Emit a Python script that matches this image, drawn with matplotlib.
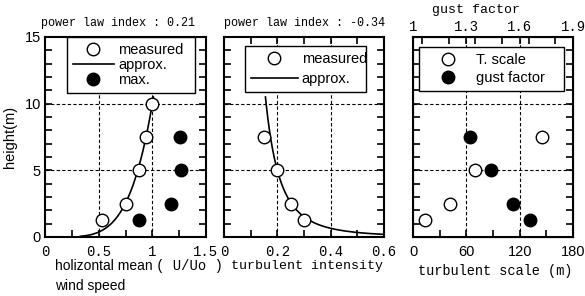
import numpy as np
import matplotlib.pyplot as plt
from matplotlib.ticker import MultipleLocator

# measured heights (m)
height = [1.25, 2.5, 5, 7.5, 10]

# panel 1: mean wind speed U/Uo
u_measured = [0.53, 0.75, 0.875, 0.945, 1.0]
u_max_height = [1.25, 2.5, 5, 7.5]
u_max = [0.88, 1.17, 1.27, 1.26]
u_index = 0.21

# panel 2: turbulent intensity
ti_height = [1.25, 2.5, 5, 7.5]
ti_measured = [0.30, 0.25, 0.20, 0.15]
ti_index = -0.34

# panel 3: turbulent scale and gust factor
ts_height = [1.25, 2.5, 5, 7.5]
t_scale = [13, 42, 70, 145]
gust_factor = [1.66, 1.56, 1.44, 1.32]

MONO = "Liberation Mono"
SANS = "Liberation Sans"

fig = plt.figure(figsize=(5.85, 2.96), dpi=100)
W, H = 585.0, 296.0


def make_ax(x0, x1):
    return fig.add_axes([x0 / W, 1 - 237 / H, (x1 - x0) / W, 200 / H])


def style(ax, xlim, xmajor, xminor, grid_x):
    ax.set_xlim(*xlim)
    ax.set_ylim(0, 15)
    ax.xaxis.set_major_locator(MultipleLocator(xmajor))
    ax.xaxis.set_minor_locator(MultipleLocator(xminor))
    ax.yaxis.set_major_locator(MultipleLocator(5))
    ax.yaxis.set_minor_locator(MultipleLocator(1))
    ax.tick_params(which="both", direction="in", top=True, right=True,
                   length=5, width=1.2, pad=6)
    for s in ax.spines.values():
        s.set_linewidth(1.5)
    for gx in grid_x:
        ax.axvline(gx, color="black", ls=(0, (3, 2)), lw=0.8, zorder=1)
    for gy in [5, 10]:
        ax.axhline(gy, color="black", ls=(0, (3, 2)), lw=0.8, zorder=1)


def legend(ax, x0, y0, x1, y1, spacing, hlen, handles=None, labels=None):
    kw = dict(loc="upper left",
              bbox_to_anchor=(x0 / W, 1 - y1 / H, (x1 - x0) / W, (y1 - y0) / H),
              bbox_transform=fig.transFigure, mode="expand",
              frameon=True, fancybox=False, framealpha=1,
              prop={"family": SANS, "size": 10.5}, handlelength=hlen,
              handletextpad=0.3, labelspacing=spacing, borderpad=0.4,
              borderaxespad=0)
    if handles is not None:
        leg = ax.legend(handles, labels, **kw)
    else:
        leg = ax.legend(**kw)
    leg.get_frame().set_edgecolor("black")
    leg.get_frame().set_linewidth(1.0)
    leg.set_zorder(5)
    return leg


mk = dict(marker="o", ms=9, ls="none", mec="black", mew=1.0, zorder=4)

# ---- panel 1
ax1 = make_ax(45, 206)
style(ax1, (0, 1.5), 0.5, 0.25, [0.5, 1.0])
z = np.linspace(0.05, 10.5, 200)
ax1.plot(u_measured, height, mfc="white", label="measured", **mk)
ax1.plot((z / 10) ** u_index, z, color="black", lw=1.2, label="approx.", zorder=3)
ax1.plot(u_max, u_max_height, mfc="black", label="max.", **mk)
ax1.set_xticks([0, 0.5, 1, 1.5])
ax1.set_xticklabels(["0", "0.5", "1", "1.5"], family=MONO, fontsize=10)
ax1.set_yticks([0, 5, 10, 15])
ax1.set_yticklabels(["0", "5", "10", "15"], family=SANS, fontsize=10.5)
ax1.tick_params(axis="y", pad=3)
ax1.set_title("power law index : 0.21", family=MONO, fontsize=8.5, pad=8, x=0.455)
legend(ax1, 67, 37, 195, 93, 0.08, 2.8)

# ---- panel 2
ax2 = make_ax(224, 384)
style(ax2, (0, 0.6), 0.2, 0.1, [0.2, 0.4])
z2 = np.linspace(0.2, 10.5, 200)
ax2.plot(ti_measured, ti_height, mfc="white", label="measured", **mk)
ax2.plot(0.2 * (z2 / 5) ** ti_index, z2, color="black", lw=1.2, label="approx.", zorder=3)
ax2.set_xticks([0, 0.2, 0.4, 0.6])
ax2.set_xticklabels(["0", "0.2", "0.4", "0.6"], family=MONO, fontsize=10)
ax2.set_yticklabels([])
ax2.set_title("power law index : -0.34", family=MONO, fontsize=8.5, pad=8)
legend(ax2, 245, 46, 366, 92, 0.4, 3.2)

# ---- panel 3
ax3 = make_ax(413, 573)
style(ax3, (0, 180), 60, 30, [60, 120])
ax3.plot(t_scale, ts_height, mfc="white", label="T. scale", **mk)
ax3.set_xticks([0, 60, 120, 180])
ax3.set_xticklabels(["0", "60", "120", "180"], family=SANS, fontsize=10.5)
ax3.set_yticklabels([])
ax3.tick_params(top=False, which="both")
top = ax3.twiny()
top.set_xlim(1, 1.9)
top.xaxis.set_major_locator(MultipleLocator(0.3))
top.xaxis.set_minor_locator(MultipleLocator(0.15))
top.tick_params(which="both", direction="in", length=5, width=1.2, pad=2)
top.set_xticks([1, 1.3, 1.6, 1.9])
top.set_xticklabels(["1", "1.3", "1.6", "1.9"], family=MONO, fontsize=10)
top.plot(gust_factor, ts_height, mfc="black", label="gust factor", **mk)
h1, l1 = ax3.get_legend_handles_labels()
h2, l2 = top.get_legend_handles_labels()
legend(top, 419, 47, 564, 94, 0.3, 3.2, h1 + h2, l1 + l2)

# axis labels
fig.text(10 / W, 1 - 137 / H, "height(m)", family=SANS, fontsize=10.5,
         rotation=90, ha="center", va="center")
fig.text(476 / W, 1 - 10 / H, "gust factor", family=MONO, fontsize=9.5,
         ha="center", va="center")
fig.text(55 / W, 1 - 266 / H, "holizontal mean", family=SANS, fontsize=10, va="center")
fig.text(156 / W, 1 - 266 / H, "( U/Uo )", family=MONO, fontsize=10, va="center")
fig.text(55 / W, 1 - 286 / H, "wind speed", family=SANS, fontsize=10, va="center")
fig.text(231 / W, 1 - 266 / H, "turbulent intensity", family=MONO, fontsize=9.5, va="center")
fig.text(418 / W, 1 - 271 / H, "turbulent scale (m)", family=MONO, fontsize=9.8, va="center")

fig.savefig("out.png", dpi=100)
